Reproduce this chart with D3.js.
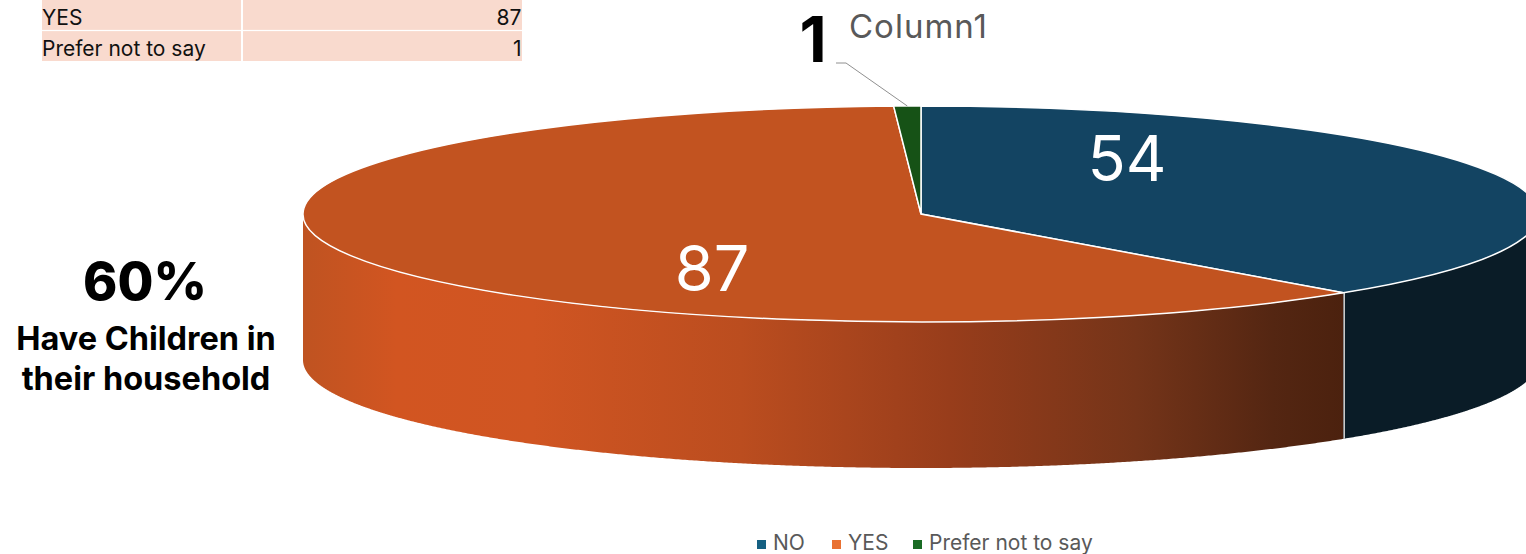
<!DOCTYPE html>
<html>
<head>
<meta charset="utf-8">
<script src="https://cdn.jsdelivr.net/npm/d3@7/dist/d3.min.js"></script>
<style>
  html, body { margin: 0; padding: 0; background: #fff; overflow: hidden; }
  svg { display: block; font-family: Inter, "Noto Sans", sans-serif; }
</style>
</head>
<body>
<svg id="chart" width="1526" height="554"></svg>
<script>
// data
const categories = ["NO", "YES", "Prefer not to say"];
const values = [54, 87, 1];
const tableRows = ["YES", "Prefer not to say"];
const tableValues = [87, 1];
const seriesName = "Column1";
const calloutBig = "60%";
const calloutLines = ["Have Children in", "their household"];

const topColors = ["#134462", "#c25320", "#165216"];
const legendColors = ["#156082", "#e97132", "#196b24"];

const width = 1526, height = 554;
const svg = d3.select("#chart");

// 1. Pie geometry (flattened disc)
const cx = 921, cy = 214, rx = 618, ry = 108, depth = 146;

const pie = d3.pie().sort(null).value(d => d);
const slices = pie(values);

const px = a => cx + rx * Math.sin(a);
const py = a => cy - ry * Math.cos(a);

// 2. Wall gradient for the orange slice
const defs = svg.append("defs");
const grad = defs.append("linearGradient")
  .attr("id", "wallOrange")
  .attr("gradientUnits", "userSpaceOnUse")
  .attr("x1", 303).attr("x2", 1346).attr("y1", 0).attr("y2", 0);
[[0, "#bf5321"], [0.09, "#d25521"], [0.22, "#d05522"], [0.42, "#bb4d1f"],
 [0.62, "#983d1b"], [0.8, "#743419"], [0.93, "#542612"], [1, "#4b210e"]].forEach(s => {
  grad.append("stop").attr("offset", s[0]).attr("stop-color", s[1]);
});

// 3. Walls: only the front half of the disc is visible
const wall = d3.area()
  .x(a => px(a))
  .y0(a => py(a))
  .y1(a => py(a) + depth);

const wallFill = ["#0a1c27", "url(#wallOrange)", "#165216"];

slices.forEach((s, i) => {
  const a0 = Math.max(s.startAngle, Math.PI / 2);
  const a1 = Math.min(s.endAngle, Math.PI * 1.5);
  if (a1 <= a0) return;
  const steps = d3.range(a0, a1, 0.004).concat([a1]);
  svg.append("path")
    .attr("d", wall(steps))
    .attr("fill", wallFill[i]);
});

// seam between the blue and orange walls
const seam = slices[1].startAngle;
svg.append("line")
  .attr("x1", px(seam) + 1).attr("x2", px(seam) + 1)
  .attr("y1", py(seam)).attr("y2", py(seam) + depth)
  .attr("stroke", "#c9c9c9")
  .attr("stroke-width", 1.5);

// 4. Top face
const arc = d3.arc().innerRadius(0).outerRadius(rx);
svg.append("g")
  .attr("transform", `translate(${cx},${cy}) scale(1,${ry / rx})`)
  .selectAll("path")
  .data(slices)
  .join("path")
    .attr("d", arc)
    .attr("fill", (d, i) => topColors[i])
    .attr("stroke", "#ffffff")
    .attr("stroke-width", 1.5)
    .attr("vector-effect", "non-scaling-stroke");

// 5. Data labels
const dataLabels = svg.append("g")
  .attr("font-size", 63)
  .attr("text-anchor", "middle");

dataLabels.append("text")
  .attr("x", 1127).attr("y", 181)
  .attr("fill", "#ffffff")
  .text(values[0]);

dataLabels.append("text")
  .attr("x", 712).attr("y", 291)
  .attr("fill", "#ffffff")
  .text(values[1]);

dataLabels.append("text")
  .attr("x", 813).attr("y", 62)
  .attr("fill", "#000000")
  .attr("font-weight", 700)
  .text(values[2]);

// leader line for the small slice
const mid = (slices[2].startAngle + slices[2].endAngle) / 2;
svg.append("path")
  .attr("d", d3.line()([[836, 63], [846, 63], [px(mid), py(mid)]]))
  .attr("fill", "none")
  .attr("stroke", "#909090")
  .attr("stroke-width", 1);

// 6. Title
svg.append("text")
  .attr("x", 849).attr("y", 38)
  .attr("fill", "#595959")
  .attr("font-size", 33)
  .attr("letter-spacing", 1)
  .text(seriesName);

// 7. Callout on the left
svg.append("text")
  .attr("x", 145).attr("y", 300)
  .attr("text-anchor", "middle")
  .attr("font-size", 52)
  .attr("font-weight", 800)
  .attr("fill", "#000")
  .text(calloutBig);

svg.selectAll("text.callout")
  .data(calloutLines)
  .join("text")
    .attr("class", "callout")
    .attr("x", 146)
    .attr("y", (d, i) => 350 + i * 40)
    .attr("text-anchor", "middle")
    .attr("font-size", 32.5)
    .attr("font-weight", 700)
    .attr("fill", "#000")
    .text(d => d);

// 8. Table fragment top left
const rowY = d3.scaleBand()
  .domain(tableRows)
  .range([0, 61])
  .paddingInner(0.04);

const rows = svg.append("g").selectAll("g")
  .data(tableRows)
  .join("g")
    .attr("transform", d => `translate(0,${rowY(d)})`);

rows.append("rect")
  .attr("x", 42).attr("width", 199)
  .attr("height", rowY.bandwidth())
  .attr("fill", "#f9dace");

rows.append("rect")
  .attr("x", 243).attr("width", 279)
  .attr("height", rowY.bandwidth())
  .attr("fill", "#f9dace");

rows.append("text")
  .attr("x", 42).attr("y", 25)
  .attr("font-size", 21)
  .attr("fill", "#111")
  .text(d => d);

rows.append("text")
  .attr("x", 521.5).attr("y", 25)
  .attr("text-anchor", "end")
  .attr("font-size", 21)
  .attr("fill", "#111")
  .text((d, i) => tableValues[i]);

// 9. Legend
const legendX = [757, 832, 913];
const legend = svg.append("g").selectAll("g")
  .data(categories)
  .join("g")
    .attr("transform", (d, i) => `translate(${legendX[i]},0)`);

legend.append("rect")
  .attr("y", 540).attr("width", 9).attr("height", 9)
  .attr("fill", (d, i) => legendColors[i]);

legend.append("text")
  .attr("x", 16).attr("y", 550)
  .attr("font-size", 21)
  .attr("fill", "#595959")
  .text(d => d);
</script>
</body>
</html>
